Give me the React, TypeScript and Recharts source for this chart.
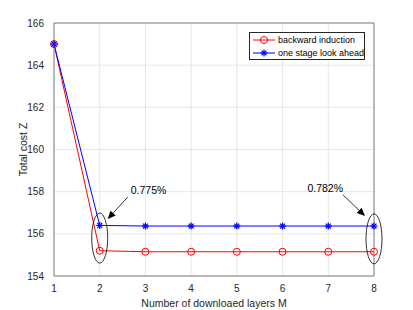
import React from 'react'
import { LineChart, Line, XAxis, YAxis, CartesianGrid, Legend, ReferenceLine, ReferenceDot } from 'recharts'

const layers = [1, 2, 3, 4, 5, 6, 7, 8]
const backwardInduction = [165.0, 155.2, 155.15, 155.15, 155.15, 155.15, 155.15, 155.15]
const oneStageLookAhead = [165.0, 156.4, 156.37, 156.37, 156.37, 156.37, 156.37, 156.37]
const yTicks = [154, 156, 158, 160, 162, 164, 166]
const gapLabels = ['0.775%', '0.782%']

const data = layers.map((m, i) => ({ m, bi: backwardInduction[i], os: oneStageLookAhead[i] }))

const font = '"Liberation Sans", Arial, sans-serif'
const textColor = '#262626'
const axisColor = '#808080'

// red open circle marker
const CircleDot = (p: any) => (
  <circle cx={p.cx} cy={p.cy} r={3.5} fill="none" stroke="#ff0000" strokeWidth={1} />
)

// blue asterisk marker
const StarDot = (p: any) => {
  const { cx, cy } = p
  const s = 3.5
  const d = s * 0.7
  return (
    <g stroke="#0000ff" strokeWidth={1.2}>
      <line x1={cx - s} y1={cy} x2={cx + s} y2={cy} />
      <line x1={cx} y1={cy - s} x2={cx} y2={cy + s} />
      <line x1={cx - d} y1={cy - d} x2={cx + d} y2={cy + d} />
      <line x1={cx - d} y1={cy + d} x2={cx + d} y2={cy - d} />
    </g>
  )
}

const arrow = (x1: number, y1: number, x2: number, y2: number) => {
  const a = Math.atan2(y2 - y1, x2 - x1)
  const len = 8, w = 3.5
  const bx = x2 - len * Math.cos(a), by = y2 - len * Math.sin(a)
  const px = -Math.sin(a) * w, py = Math.cos(a) * w
  return (
    <g>
      <line x1={x1} y1={y1} x2={bx} y2={by} stroke="#000" strokeWidth={0.8} />
      <polygon points={`${x2},${y2} ${bx + px},${by + py} ${bx - px},${by - py}`} fill="#000" />
    </g>
  )
}

const LeftNote = (p: any) => {
  const { cx, cy } = p
  return (
    <g>
      <ellipse cx={cx} cy={cy} rx={8} ry={25} fill="none" stroke="#000" strokeWidth={0.8} />
      {arrow(cx + 28, cy - 41, cx + 8, cy - 19)}
      <text x={cx + 31} y={cy - 44} fontSize={10.5} fontFamily={font} fill="#000">{gapLabels[0]}</text>
    </g>
  )
}

const RightNote = (p: any) => {
  const { cx, cy } = p
  return (
    <g>
      <ellipse cx={cx} cy={cy} rx={8} ry={25} fill="none" stroke="#000" strokeWidth={0.8} />
      {arrow(cx - 31, cy - 44, cx - 9, cy - 23)}
      <text x={cx - 31} y={cy - 47} textAnchor="end" fontSize={10.5} fontFamily={font} fill="#000">{gapLabels[1]}</text>
    </g>
  )
}

const LegendBox = () => (
  <div style={{ width: 116, height: 28, boxSizing: 'border-box', border: '1px solid #262626', background: '#fff', fontFamily: font, fontSize: 9, color: '#000', whiteSpace: 'nowrap' }}>
    {[
      { name: 'backward induction', color: '#ff0000', star: false },
      { name: 'one stage look ahead', color: '#0000ff', star: true },
    ].map(e => (
      <div key={e.name} style={{ display: 'flex', alignItems: 'center', height: 13 }}>
        <svg width={24} height={10} style={{ marginLeft: 2 }}>
          <line x1={1} y1={5} x2={23} y2={5} stroke={e.color} strokeWidth={1} />
          {e.star ? <StarDot cx={12} cy={5} /> : <CircleDot cx={12} cy={5} />}
        </svg>
        <span style={{ marginLeft: 2 }}>{e.name}</span>
      </div>
    ))}
  </div>
)

export default function App() {
  return (
    <div style={{ position: 'absolute', left: 0, top: 0, background: '#fff' }}>
      <LineChart width={413} height={310} data={data} margin={{ top: 23, right: 39, left: 20, bottom: 0 }}>
        <CartesianGrid stroke="#e6e6e6" strokeWidth={1} />
        <XAxis
          dataKey="m"
          type="number"
          domain={[1, 8]}
          ticks={layers}
          stroke={axisColor}
          tickLine={false}
          tick={{ fill: textColor, fontSize: 10, fontFamily: font }}
          tickMargin={3}
          height={34}
          label={{ value: 'Number of downloaed layers M', position: 'insideBottom', offset: 3, fill: textColor, fontSize: 10.5, fontFamily: font }}
        />
        <YAxis
          type="number"
          domain={[154, 166]}
          ticks={yTicks}
          stroke={axisColor}
          tickLine={false}
          tick={{ fill: textColor, fontSize: 10, fontFamily: font }}
          tickMargin={4}
          width={34}
          label={{ value: 'Total cost Z', angle: -90, position: 'insideLeft', offset: 3, fill: textColor, fontSize: 10.5, fontFamily: font, style: { textAnchor: 'middle' } }}
        />
        <ReferenceLine x={8} stroke={axisColor} />
        <ReferenceLine y={166} stroke={axisColor} />
        <Legend content={<LegendBox />} layout="horizontal" verticalAlign="middle" wrapperStyle={{ left: 249, top: 32, width: 116 }} />
        <Line dataKey="bi" name="backward induction" stroke="#ff0000" strokeWidth={1} dot={<CircleDot />} isAnimationActive={false} />
        <Line dataKey="os" name="one stage look ahead" stroke="#0000ff" strokeWidth={1} dot={<StarDot />} isAnimationActive={false} />
        <ReferenceDot x={2} y={155.8} shape={<LeftNote />} />
        <ReferenceDot x={8} y={155.76} shape={<RightNote />} />
      </LineChart>
    </div>
  )
}
